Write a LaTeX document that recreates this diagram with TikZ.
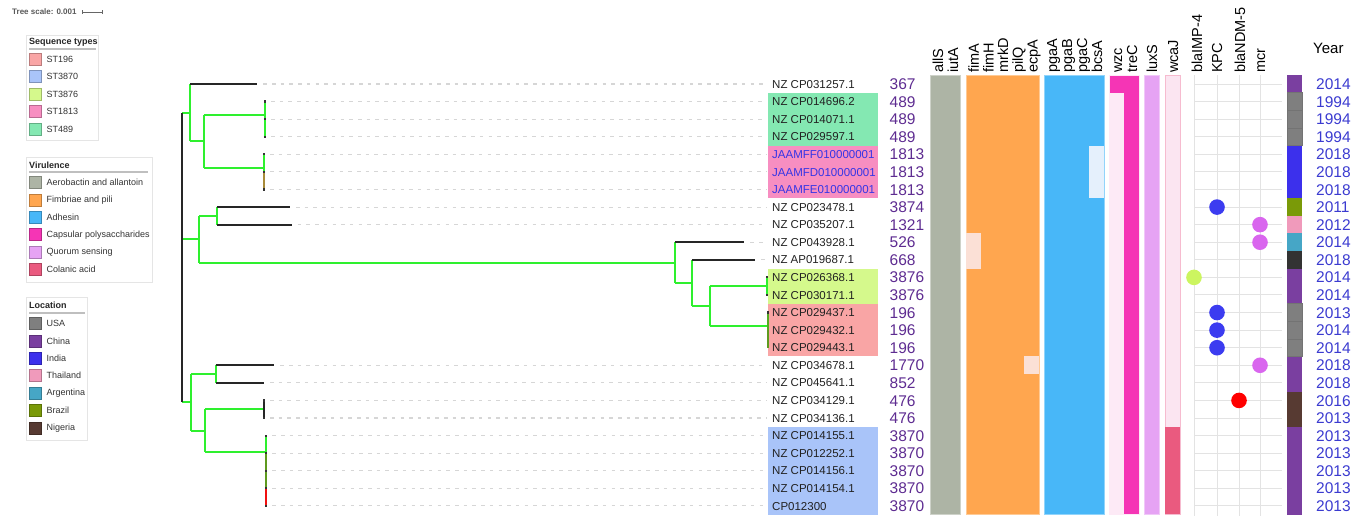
\documentclass[tikz,border=0pt]{standalone}
\usepackage{fontspec}
\setmainfont{Liberation Sans}

% tree colours
\definecolor{trgreen}{HTML}{2EF02E}
\definecolor{trolive}{HTML}{A88B3A}
\definecolor{trmoss}{HTML}{5E9A1E}
\definecolor{trred}{HTML}{F01010}
\definecolor{leadergray}{HTML}{D6D6D6}
% text colours
\definecolor{labgray}{HTML}{222222}
\definecolor{labblue}{HTML}{3535E6}
\definecolor{stpurple}{HTML}{5E2C91}
\definecolor{yrblue}{HTML}{3B3BD0}
% sequence types
\definecolor{stA}{HTML}{F9A5A5}  % ST196
\definecolor{stB}{HTML}{A9C4F9}  % ST3870
\definecolor{stC}{HTML}{D5F98C}  % ST3876
\definecolor{stD}{HTML}{F78EC1}  % ST1813
\definecolor{stE}{HTML}{84E8B2}  % ST489
% virulence
\definecolor{vAero}{HTML}{ADB4A5}
\definecolor{vFim}{HTML}{FFA64F}
\definecolor{vFimL}{HTML}{FBE0D6}
\definecolor{vAdh}{HTML}{48B7F8}
\definecolor{vAdhL}{HTML}{E5F0FC}
\definecolor{vCap}{HTML}{F535B5}
\definecolor{vCapL}{HTML}{FDEAF6}
\definecolor{vQuo}{HTML}{E6A3F4}
\definecolor{vCol}{HTML}{EA5A7F}
\definecolor{vColL}{HTML}{FBE5F1}
% resistance dots
\definecolor{dKPC}{HTML}{3C3CF0}
\definecolor{dMCR}{HTML}{D966EE}
\definecolor{dIMP}{HTML}{CCF560}
\definecolor{dNDM}{HTML}{FF0000}
\definecolor{gridgray}{HTML}{E3E3E3}
% locations
\definecolor{locUSA}{HTML}{7F7F7F}
\definecolor{locChina}{HTML}{7A3FA0}
\definecolor{locIndia}{HTML}{3C30EC}
\definecolor{locThai}{HTML}{F09ABB}
\definecolor{locArg}{HTML}{46A6C6}
\definecolor{locBra}{HTML}{7A9A08}
\definecolor{locNig}{HTML}{573A32}
\definecolor{locNone}{HTML}{333333}

\begin{document}
\begin{tikzpicture}[x=1pt,y=-1pt,
  grn/.style={draw=trgreen,line width=2pt},
  blk/.style={draw=black!85,line width=2pt},
  leaderline/.style={draw=leadergray,line width=1.1pt,dash pattern=on 3.5pt off 5.2pt},
  lab/.style={anchor=base west,inner sep=0pt,font=\fontsize{11.5}{12}\selectfont},
  stnum/.style={anchor=base west,inner sep=0pt,font=\fontsize{15.5}{16}\selectfont,text=stpurple},
  yrnum/.style={anchor=base west,inner sep=0pt,font=\fontsize{15.5}{16}\selectfont,text=yrblue},
  hdr/.style={rotate=90,anchor=base west,inner sep=0pt,font=\fontsize{14.5}{15}\selectfont,text=black},
  legbox/.style={draw=black!10,fill=white,line width=0.8pt},
  legtitle/.style={anchor=west,inner sep=0pt,font=\bfseries\fontsize{9}{10}\selectfont,text=black!85},
  legtext/.style={anchor=west,inner sep=0pt,font=\fontsize{9}{10}\selectfont,text=black!80},
  swatch/.style={line width=0.6pt},
  dot/.style={circle,inner sep=0pt,minimum size=15.6pt},
  blockedge/.style={line width=0.8pt}
]
\useasboundingbox (0,0) rectangle (1362,517);

% ---------- tree scale ----------
\node[anchor=west,inner sep=0pt,font=\bfseries\fontsize{8}{9}\selectfont,text=black!65] (tscale) at (12,12) {Tree scale: 0.001};
\coordinate (sbL) at (82,12);
\coordinate (sbR) at (102,12);
\draw[black!60,line width=0.7pt] (sbL) -- (sbR);
\draw[black!60,line width=0.7pt] ([yshift=-2pt]sbL) -- ([yshift=2pt]sbL);
\draw[black!60,line width=0.7pt] ([yshift=-2pt]sbR) -- ([yshift=2pt]sbR);

% ---------- legend: sequence types ----------
\draw[legbox] (26,35) rectangle (98,140);
\node[legtitle] (lgST) at (29,42) {Sequence types};
\draw[black!25,line width=1.2pt] (29,49) -- (96,49);
\foreach \y/\c/\t [count=\k] in {59.3/stA/ST196,76.7/stB/ST3870,94.3/stC/ST3876,111.7/stD/ST1813,129/stE/ST489}{
  \draw[swatch,fill=\c,draw=\c!75!black] (29,\y-6) rectangle (41,\y+6);
  \node[legtext] (lgST\k) at (46.5,\y) {\t};
}

% ---------- legend: virulence ----------
\draw[legbox] (26,157) rectangle (152,282);
\node[legtitle] (lgV) at (29,165) {Virulence};
\draw[black!25,line width=1.2pt] (29,172) -- (148,172);
\foreach \y/\c/\t [count=\k] in {182.7/vAero/Aerobactin and allantoin,200/vFim/Fimbriae and pili,217.3/vAdh/Adhesin,234.7/vCap/Capsular polysaccharides,252/vQuo/Quorum sensing,269.3/vCol/Colanic acid}{
  \draw[swatch,fill=\c,draw=\c!75!black] (29,\y-6) rectangle (41,\y+6);
  \node[legtext] (lgV\k) at (46.5,\y) {\t};
}

% ---------- legend: location ----------
\draw[legbox] (26,297) rectangle (87,440);
\node[legtitle] (lgL) at (29,305) {Location};
\draw[black!25,line width=1.2pt] (29,313) -- (85,313);
\foreach \y/\c/\t [count=\k] in {323.3/locUSA/USA,341/locChina/China,358.3/locIndia/India,375.7/locThai/Thailand,393.3/locArg/Argentina,410.7/locBra/Brazil,428/locNig/Nigeria}{
  \draw[swatch,fill=\c,draw=\c!75!black] (29,\y-6) rectangle (41,\y+6);
  \node[legtext] (lgL\k) at (46.5,\y) {\t};
}

% ---------- label backgrounds by sequence type ----------
\fill[stE] (768,{84+17.58*1-8.79}) rectangle (878,{84+17.58*3+8.79});
\fill[stD] (768,{84+17.58*4-8.79}) rectangle (878,{84+17.58*6+8.79});
\fill[stC] (768,{84+17.58*11-8.79}) rectangle (878,{84+17.58*12+8.79});
\fill[stA] (768,{84+17.58*13-8.79}) rectangle (878,{84+17.58*15+8.79});
\fill[stB] (768,{84+17.58*20-8.79}) rectangle (878,{84+17.58*24+8.79});

% ---------- leaf ends ----------
\foreach \i/\x in {0/257.3,1/265,2/265,3/265,4/264,5/264,6/264,7/290,8/291.7,9/744.3,10/755,11/767,12/767,13/768,14/768,15/768,16/274.3,17/264,18/264,19/264,20/266.3,21/266.3,22/266.3,23/266.3,24/266.3}{
  \coordinate (L\i) at (\x,{84+17.58*\i});
}

% ---------- dashed leaders to the labels ----------
\foreach \i in {0,...,10,16,17,...,24}{
  \coordinate (E\i) at (766,{84+17.58*\i});
  \draw[leaderline] ([xshift=6pt]L\i) -- (E\i);
}

% ---------- internal nodes ----------
\coordinate (R)  at (182,112.6);
\coordinate (Rb) at (182,402.37);
\coordinate (A)  at (190,112.6);
\coordinate (A2) at (204,141.15);
\coordinate (A3) at (265,114.8);
\coordinate (A4) at (264,167.5);
\coordinate (B)  at (199,239.2);
\coordinate (B1) at (216.7,215.85);
\coordinate (C1) at (675,262.6);
\coordinate (C2) at (692.3,282.9);
\coordinate (C3) at (709.7,305.9);
\coordinate (C4) at (767,286.17);
\coordinate (C5) at (768,325.7);
\coordinate (D)  at (191,402.37);
\coordinate (D1) at (215.7,374.07);
\coordinate (D2) at (205,430.67);
\coordinate (D3) at (264,409.23);
\coordinate (D4) at (266.3,452.1);

% root
\draw[grn] (R) -- (A);
\draw[grn] (R |- B) -- (B);
\draw[grn] (Rb) -- (D);
\draw[blk] (R) -- (Rb);

% clade of rows 0-6
\draw[grn] (A |- L0) -- (A |- A2);
\draw[blk] (A |- L0) -- (L0);
\draw[grn] (A |- A2) -- (A2);
\draw[grn] (A2 |- A3) -- (A2 |- A4);
\draw[grn] (A2 |- A3) -- (A3);
\draw[grn] (A2 |- A4) -- (A4);
\draw[grn] (L1) -- (L3);
\draw[grn] (L4) -- (L5);
\draw[draw=trolive,line width=2pt] (L5) -- (L6);

% clade of rows 7-15
\draw[grn] (B |- B1) -- (B |- C1);
\draw[grn] (B |- B1) -- (B1);
\draw[grn] (B |- C1) -- (C1);
\draw[grn] (B1 |- L7) -- (B1 |- L8);
\draw[blk] (B1 |- L7) -- (L7);
\draw[blk] (B1 |- L8) -- (L8);
\draw[grn] (C1 |- L9) -- (C1 |- C2);
\draw[blk] (C1 |- L9) -- (L9);
\draw[grn] (C1 |- C2) -- (C2);
\draw[grn] (C2 |- L10) -- (C2 |- C3);
\draw[blk] (C2 |- L10) -- (L10);
\draw[grn] (C2 |- C3) -- (C3);
\draw[grn] (C3 |- C4) -- (C3 |- C5);
\draw[grn] (C3 |- C4) -- (C4);
\draw[grn] (C3 |- C5) -- (C5);
\draw[grn] (L11) -- (L12);
\draw[draw=trmoss!80!trgreen,line width=2pt] (L13) -- (L14);
\draw[draw=trmoss,line width=2pt] (L14) -- (L15);

% clade of rows 16-24
\draw[grn] (D |- D1) -- (D |- D2);
\draw[grn] (D |- D1) -- (D1);
\draw[grn] (D |- D2) -- (D2);
\draw[grn] (D1 |- L16) -- (D1 |- L17);
\draw[blk] (D1 |- L16) -- (L16);
\draw[blk] (D1 |- L17) -- (L17);
\draw[grn] (D2 |- D3) -- (D2 |- D4);
\draw[grn] (D2 |- D3) -- (D3);
\draw[grn] (D2 |- D4) -- (D4);
\draw[blk] (L18) -- (L19);
\draw[grn] (L20) -- (L21);
\draw[draw=trmoss,line width=2pt] (L21) -- (L23);
\draw[draw=trred,line width=2pt] (L23) -- (L24);

% ticks at zero-length leaves
\foreach \i in {1,...,6,11,12,13,18,19,...,24}{
  \fill[black!80] ([xshift=-1pt,yshift=-1.1pt]L\i) rectangle ([xshift=1pt,yshift=1.1pt]L\i);
}

% ---------- labels, sequence types, location, year ----------
\foreach \i/\lab/\st/\yr/\loc/\lc in {
 0/NZ CP031257.1/367/2014/locChina/labgray,
 1/NZ CP014696.2/489/1994/locUSA/labgray,
 2/NZ CP014071.1/489/1994/locUSA/labgray,
 3/NZ CP029597.1/489/1994/locUSA/labgray,
 4/JAAMFF010000001/1813/2018/locIndia/labblue,
 5/JAAMFD010000001/1813/2018/locIndia/labblue,
 6/JAAMFE010000001/1813/2018/locIndia/labblue,
 7/NZ CP023478.1/3874/2011/locBra/labgray,
 8/NZ CP035207.1/1321/2012/locThai/labgray,
 9/NZ CP043928.1/526/2014/locArg/labgray,
 10/NZ AP019687.1/668/2018/locNone/labgray,
 11/NZ CP026368.1/3876/2014/locChina/labgray,
 12/NZ CP030171.1/3876/2014/locChina/labgray,
 13/NZ CP029437.1/196/2013/locUSA/labgray,
 14/NZ CP029432.1/196/2014/locUSA/labgray,
 15/NZ CP029443.1/196/2014/locUSA/labgray,
 16/NZ CP034678.1/1770/2018/locChina/labgray,
 17/NZ CP045641.1/852/2018/locChina/labgray,
 18/NZ CP034129.1/476/2016/locNig/labgray,
 19/NZ CP034136.1/476/2013/locNig/labgray,
 20/NZ CP014155.1/3870/2013/locChina/labgray,
 21/NZ CP012252.1/3870/2013/locChina/labgray,
 22/NZ CP014156.1/3870/2013/locChina/labgray,
 23/NZ CP014154.1/3870/2013/locChina/labgray,
 24/CP012300/3870/2013/locChina/labgray}{
  \node[lab,text=\lc] (lab\i) at (772,{84+17.58*\i+4.1}) {\lab};
  \node[stnum] (st\i) at (889.5,{84+17.58*\i+5.6}) {\st};
  \fill[\loc] (1287,{84+17.58*\i-8.79}) rectangle (1302,{84+17.58*\i+8.79});
  \node[yrnum] (yr\i) at (1316,{84+17.58*\i+5.6}) {\yr};
}
% cell borders of the USA location cells
\foreach \i in {1,2,3,13,14,15}{
  \draw[black!55,line width=0.6pt] (1287,{84+17.58*\i-8.79}) rectangle (1302,{84+17.58*\i+8.79});
}
\node[anchor=base west,inner sep=0pt,font=\fontsize{15}{16}\selectfont] (yearhdr) at (1313,53.3) {Year};

% ---------- virulence blocks ----------
\def\ytop{75.21}
\def\ybot{514.71}
\filldraw[blockedge,fill=vAero,draw=vAero!60!white] (930,\ytop) rectangle (960,\ybot);
\filldraw[blockedge,fill=vFim,draw=vFim!60!white] (966,\ytop) rectangle (1039,\ybot);
\fill[vFimL] (966,{84+17.58*9-8.79}) rectangle (980.6,{84+17.58*10+8.79});
\fill[vFimL] (1024.4,{84+17.58*16-8.79}) rectangle (1039,{84+17.58*16+8.79});
\filldraw[blockedge,fill=vAdh,draw=vAdh!60!white] (1044,\ytop) rectangle (1104,\ybot);
\fill[vAdhL] (1089,{84+17.58*4-8.79}) rectangle (1104,{84+17.58*6+8.79});
\filldraw[blockedge,fill=vCap,draw=vCapL] (1109,\ytop) rectangle (1139,\ybot);
\fill[vCapL] (1109.4,{84+8.79}) rectangle (1124,\ybot);
\filldraw[blockedge,fill=vQuo,draw=vQuo!60!white] (1144,\ytop) rectangle (1159,\ybot);
\filldraw[blockedge,fill=vColL,draw=vColL!70!vCol] (1165,\ytop) rectangle (1180,\ybot);
\fill[vCol] (1165.4,{84+17.58*20-8.79}) rectangle (1179.6,{\ybot-0.4});

% virulence gene headers
\foreach \x/\g in {943/allS,958/iutA,978.8/fimA,993.5/fimH,1008.2/mrkD,1022.8/pilQ,1037.5/ecpA,1057/pgaA,1072/pgaB,1087/pgaC,1102/bcsA,1122/wzc,1137/treC,1157/luxS,1178/wcaJ}{
  \node[hdr] (h\g) at (\x,73) {\g};
}

% ---------- resistance grid ----------
\foreach \x in {1194,1217,1239,1260}{
  \draw[gridgray,line width=1pt] (\x,75) -- (\x,516);
}
\foreach \i in {0,...,24}{
  \draw[gridgray,line width=1pt] (1194,{84+17.58*\i}) -- (1282,{84+17.58*\i});
}
\foreach \x/\g/\n in {1202/blaIMP-4/hIMP,1222/KPC/hKPC,1245/blaNDM-5/hNDM,1265/mcr/hMCR}{
  \node[hdr] (\n) at (\x,73) {\g};
}
% gene presence
\foreach \i/\x/\c [count=\k] in {7/1217/dKPC,8/1260/dMCR,9/1260/dMCR,11/1194/dIMP,13/1217/dKPC,14/1217/dKPC,15/1217/dKPC,16/1260/dMCR,18/1239/dNDM}{
  \node[dot,fill=\c] (g\k) at (\x,{84+17.58*\i}) {};
}
\end{tikzpicture}
\end{document}
